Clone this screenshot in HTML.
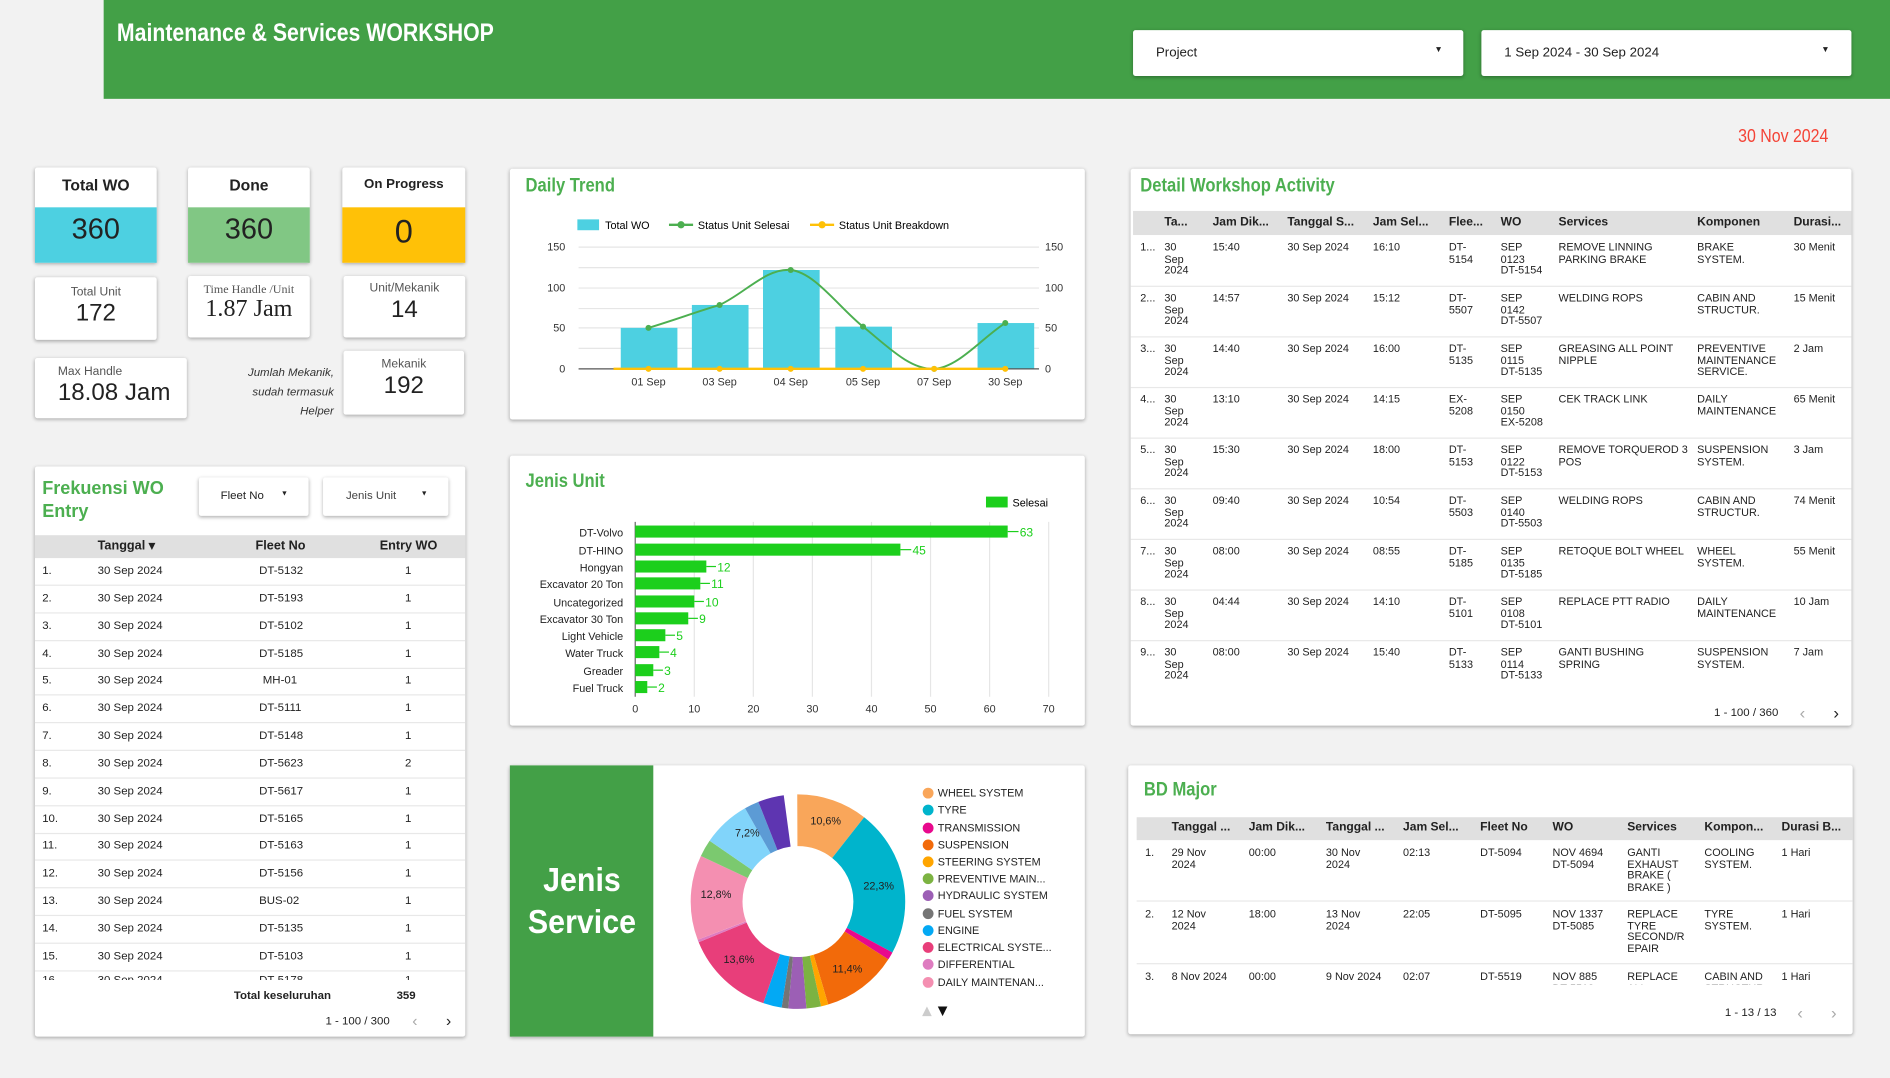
<!DOCTYPE html>
<html><head><meta charset="utf-8">
<style>
*{margin:0;padding:0;box-sizing:border-box}
html,body{width:1890px;height:1078px;overflow:hidden;background:#f2f2f2}
#w{position:absolute;left:0;top:0;width:1568px;height:894px;transform:scale(1.20536);transform-origin:0 0;font-family:"Liberation Sans Narrow","Liberation Sans",sans-serif;color:#222}
.a{position:absolute}
.card{position:absolute;background:#fff;box-shadow:0 1px 3px rgba(0,0,0,.3);border-radius:2px}
.ttl{position:absolute;color:#4caf50;font-weight:bold;font-size:16px;transform:scaleX(0.86);transform-origin:0 0;white-space:nowrap}
.c{position:absolute;white-space:nowrap}
.sm{font-size:9px;line-height:9.6px}
.hdr{position:absolute;background:#e0e0e0}
.hl{position:absolute;font-weight:bold;font-size:10px;white-space:nowrap}
.kt{position:absolute;left:0;right:0;text-align:center}
.row{position:absolute;left:0;right:0;border-bottom:1px solid #e8e8e8}
</style></head><body><div id="w">

<!-- header -->
<div class="a" style="left:86px;top:0;width:1482px;height:82px;background:#43a047"></div>
<div class="a" style="left:97px;top:16px;color:#fff;font-weight:bold;font-size:21px;transform:scaleX(0.84);transform-origin:0 0;white-space:nowrap">Maintenance &amp; Services WORKSHOP</div>
<div class="card" style="left:940px;top:25px;width:274px;height:38px"><span class="c" style="left:19px;top:13px;font-size:11px">Project</span><span class="c" style="left:250px;top:13px;font-size:7px">▼</span></div>
<div class="card" style="left:1229px;top:25px;width:307px;height:38px"><span class="c" style="left:19px;top:13px;font-size:11px">1 Sep 2024 - 30 Sep 2024</span><span class="c" style="left:282px;top:13px;font-size:7px">▼</span></div>
<div class="a" style="left:1442px;top:105px;color:#f44336;font-size:15px;transform:scaleX(0.88);transform-origin:0 0;white-space:nowrap">30 Nov 2024</div>

<!-- KPI cards -->
<div class="card" style="left:29px;top:139px;width:101px;height:79px"><div class="kt" style="top:7px;font-weight:bold;font-size:13px">Total WO</div><div class="a" style="left:0;right:0;top:33px;height:46px;background:#4dd0e1"></div><div class="kt" style="top:38px;font-size:24px">360</div></div>
<div class="card" style="left:156px;top:139px;width:101px;height:79px"><div class="kt" style="top:7px;font-weight:bold;font-size:13px">Done</div><div class="a" style="left:0;right:0;top:33px;height:46px;background:#81c784"></div><div class="kt" style="top:38px;font-size:24px">360</div></div>
<div class="card" style="left:284px;top:139px;width:102px;height:79px"><div class="kt" style="top:8px;font-weight:bold;font-size:11px">On Progress</div><div class="a" style="left:0;right:0;top:33px;height:46px;background:#ffc107"></div><div class="kt" style="top:38px;font-size:27px">0</div></div>

<div class="card" style="left:29px;top:230px;width:101px;height:52px"><div class="kt" style="top:7px;font-size:10px;color:#555">Total Unit</div><div class="kt" style="top:19px;font-size:20px">172</div></div>
<div class="card" style="left:156px;top:229px;width:101px;height:51px;font-family:'Liberation Serif',serif"><div class="kt" style="top:6px;font-size:10px;color:#555">Time Handle /Unit</div><div class="kt" style="top:16px;font-size:20px">1.87 Jam</div></div>
<div class="card" style="left:285px;top:229px;width:101px;height:51px"><div class="kt" style="top:5px;font-size:10px;color:#555">Unit/Mekanik</div><div class="kt" style="top:17px;font-size:20px">14</div></div>
<div class="card" style="left:29px;top:297px;width:126px;height:50px"><div class="a" style="left:19px;top:6px;font-size:10px;color:#555">Max Handle</div><div class="a" style="left:19px;top:18px;font-size:20px">18.08 Jam</div></div>
<div class="a" style="left:180px;top:302px;width:97px;text-align:right;font-style:italic;font-size:9.5px;line-height:16px;color:#333">Jumlah Mekanik,<br>sudah termasuk<br>Helper</div>
<div class="card" style="left:285px;top:291px;width:100px;height:53px"><div class="kt" style="top:6px;font-size:10px;color:#555">Mekanik</div><div class="kt" style="top:18px;font-size:20px">192</div></div>

<!-- Daily trend -->
<div class="card" style="left:423px;top:140px;width:477px;height:208px"></div>
<div class="ttl" style="left:436px;top:146px">Daily Trend</div>
<svg class="a" style="left:0;top:0" width="1568" height="894" font-family="Liberation Sans Narrow, Liberation Sans, sans-serif" font-size="9">
 <rect x="479" y="182" width="18" height="9" fill="#4dd0e1"/><text x="502" y="190">Total WO</text>
 <line x1="555" y1="186.5" x2="575" y2="186.5" stroke="#4caf50" stroke-width="2"/><circle cx="565" cy="186.5" r="3" fill="#4caf50"/><text x="579" y="190">Status Unit Selesai</text>
 <line x1="672" y1="186.5" x2="692" y2="186.5" stroke="#ffc107" stroke-width="2"/><circle cx="682" cy="186.5" r="3" fill="#ffc107"/><text x="696" y="190">Status Unit Breakdown</text>
 <g stroke="#e6e6e6"><line x1="480" y1="205" x2="862" y2="205"/><line x1="480" y1="222" x2="862" y2="222"/><line x1="480" y1="239" x2="862" y2="239"/><line x1="480" y1="256" x2="862" y2="256"/><line x1="480" y1="272" x2="862" y2="272"/><line x1="480" y1="289" x2="862" y2="289"/></g>
 <g fill="#333" text-anchor="end"><text x="469" y="208">150</text><text x="469" y="242">100</text><text x="469" y="275">50</text><text x="469" y="309">0</text></g>
 <g fill="#333"><text x="867" y="208">150</text><text x="867" y="242">100</text><text x="867" y="275">50</text><text x="867" y="309">0</text></g>
 <g fill="#4dd0e1"><rect x="515" y="272" width="47" height="34"/><rect x="574" y="253" width="47" height="53"/><rect x="633" y="224" width="47" height="82"/><rect x="693" y="271" width="47" height="35"/><rect x="811" y="268" width="47" height="38"/></g>
 <line x1="480" y1="306" x2="862" y2="306" stroke="#555"/>
 <path d="M538,272 C558,266 577,259 597,253 C617,244 636,222 656,224 C676,226 696,255 716,271 C736,287 755,307 775,306 C795,305 815,280 834,268" fill="none" stroke="#4caf50" stroke-width="1.6"/>
 <g fill="#4caf50"><circle cx="538" cy="272" r="2.5"/><circle cx="597" cy="253" r="2.5"/><circle cx="656" cy="224" r="2.5"/><circle cx="716" cy="271" r="2.5"/><circle cx="775" cy="306" r="2.5"/><circle cx="834" cy="268" r="2.5"/></g>
 <line x1="509" y1="306" x2="834" y2="306" stroke="#ffc107" stroke-width="2"/>
 <g fill="#ffc107"><circle cx="538" cy="306" r="2.5"/><circle cx="597" cy="306" r="2.5"/><circle cx="656" cy="306" r="2.5"/><circle cx="716" cy="306" r="2.5"/><circle cx="775" cy="306" r="2.5"/><circle cx="834" cy="306" r="2.5"/></g>
 <g fill="#333" text-anchor="middle"><text x="538" y="320">01 Sep</text><text x="597" y="320">03 Sep</text><text x="656" y="320">04 Sep</text><text x="716" y="320">05 Sep</text><text x="775" y="320">07 Sep</text><text x="834" y="320">30 Sep</text></g>
</svg>

<!-- Jenis Unit -->
<div class="card" style="left:423px;top:378px;width:477px;height:224px"></div>
<div class="ttl" style="left:436px;top:391px">Jenis Unit</div>
<svg class="a" style="left:0;top:0" width="1568" height="894" font-family="Liberation Sans Narrow, Liberation Sans, sans-serif" font-size="9">
 <rect x="818" y="412" width="18" height="9" fill="#1ccf1c"/><text x="840" y="420">Selesai</text>
 <g stroke="#e6e6e6"><line x1="576" y1="433" x2="576" y2="578"/><line x1="625" y1="433" x2="625" y2="578"/><line x1="674" y1="433" x2="674" y2="578"/><line x1="723" y1="433" x2="723" y2="578"/><line x1="772" y1="433" x2="772" y2="578"/><line x1="821" y1="433" x2="821" y2="578"/><line x1="870" y1="433" x2="870" y2="578"/></g>
 <line x1="527" y1="433" x2="527" y2="578" stroke="#666"/>
 <g fill="#1ccf1c">
  <rect x="527" y="436" width="309" height="10"/><rect x="527" y="451" width="220" height="10"/><rect x="527" y="465" width="59" height="10"/><rect x="527" y="479" width="54" height="10"/><rect x="527" y="494" width="49" height="10"/><rect x="527" y="508" width="44" height="10"/><rect x="527" y="522" width="25" height="10"/><rect x="527" y="536" width="20" height="10"/><rect x="527" y="551" width="15" height="10"/><rect x="527" y="565" width="10" height="10"/>
 </g>
 <g stroke="#1ccf1c"><line x1="836" y1="441" x2="845" y2="441"/><line x1="747" y1="456" x2="756" y2="456"/><line x1="586" y1="470" x2="594" y2="470"/><line x1="581" y1="484" x2="589" y2="484"/><line x1="576" y1="499" x2="584" y2="499"/><line x1="571" y1="513" x2="579" y2="513"/><line x1="552" y1="527" x2="560" y2="527"/><line x1="547" y1="541" x2="555" y2="541"/><line x1="542" y1="556" x2="550" y2="556"/><line x1="537" y1="570" x2="545" y2="570"/></g>
 <g fill="#1ccf1c" font-size="10"><text x="846" y="445">63</text><text x="757" y="460">45</text><text x="595" y="474">12</text><text x="590" y="488">11</text><text x="585" y="503">10</text><text x="580" y="517">9</text><text x="561" y="531">5</text><text x="556" y="545">4</text><text x="551" y="560">3</text><text x="546" y="574">2</text></g>
 <g fill="#222" text-anchor="end"><text x="517" y="445">DT-Volvo</text><text x="517" y="460">DT-HINO</text><text x="517" y="474">Hongyan</text><text x="517" y="488">Excavator 20 Ton</text><text x="517" y="503">Uncategorized</text><text x="517" y="517">Excavator 30 Ton</text><text x="517" y="531">Light Vehicle</text><text x="517" y="545">Water Truck</text><text x="517" y="560">Greader</text><text x="517" y="574">Fuel Truck</text></g>
 <g fill="#333" text-anchor="middle"><text x="527" y="591">0</text><text x="576" y="591">10</text><text x="625" y="591">20</text><text x="674" y="591">30</text><text x="723" y="591">40</text><text x="772" y="591">50</text><text x="821" y="591">60</text><text x="870" y="591">70</text></g>
</svg>

<!-- Jenis Service -->
<div class="card" style="left:423px;top:635px;width:477px;height:225px"></div>
<div class="a" style="left:423px;top:635px;width:119px;height:225px;background:#43a047"></div>
<div class="a" style="left:423px;top:712px;width:119px;text-align:center;color:#fff;font-weight:bold;font-size:28px;line-height:35px"><span style="display:inline-block;transform:scaleX(0.9)">Jenis<br>Service</span></div>
<svg class="a" style="left:0;top:0" width="1568" height="894" font-family="Liberation Sans Narrow, Liberation Sans, sans-serif">
 <g transform="rotate(-90 662 748)" fill="none" stroke-width="43">
  <circle cx="662" cy="748" r="67.5" pathLength="100" stroke="#f9a65a" stroke-dasharray="10.6 89.4" stroke-dashoffset="0"/>
  <circle cx="662" cy="748" r="67.5" pathLength="100" stroke="#00b4cc" stroke-dasharray="22.3 77.7" stroke-dashoffset="-10.6"/>
  <circle cx="662" cy="748" r="67.5" pathLength="100" stroke="#e8098d" stroke-dasharray="1.2 98.8" stroke-dashoffset="-32.9"/>
  <circle cx="662" cy="748" r="67.5" pathLength="100" stroke="#f26a0a" stroke-dasharray="11.4 88.6" stroke-dashoffset="-34.1"/>
  <circle cx="662" cy="748" r="67.5" pathLength="100" stroke="#ffa500" stroke-dasharray="1.1 98.9" stroke-dashoffset="-45.5"/>
  <circle cx="662" cy="748" r="67.5" pathLength="100" stroke="#7cb342" stroke-dasharray="2.2 97.8" stroke-dashoffset="-46.6"/>
  <circle cx="662" cy="748" r="67.5" pathLength="100" stroke="#9c5fb5" stroke-dasharray="2.7 97.3" stroke-dashoffset="-48.8"/>
  <circle cx="662" cy="748" r="67.5" pathLength="100" stroke="#757575" stroke-dasharray="1.0 99" stroke-dashoffset="-51.5"/>
  <circle cx="662" cy="748" r="67.5" pathLength="100" stroke="#03a9f4" stroke-dasharray="2.8 97.2" stroke-dashoffset="-52.5"/>
  <circle cx="662" cy="748" r="67.5" pathLength="100" stroke="#e83e7a" stroke-dasharray="13.6 86.4" stroke-dashoffset="-55.3"/>
  <circle cx="662" cy="748" r="67.5" pathLength="100" stroke="#de7cc0" stroke-dasharray="0.4 99.6" stroke-dashoffset="-68.9"/>
  <circle cx="662" cy="748" r="67.5" pathLength="100" stroke="#f48fb1" stroke-dasharray="12.8 87.2" stroke-dashoffset="-69.3"/>
  <circle cx="662" cy="748" r="67.5" pathLength="100" stroke="#7bc96f" stroke-dasharray="2.6 97.4" stroke-dashoffset="-82.1"/>
  <circle cx="662" cy="748" r="67.5" pathLength="100" stroke="#81d4fa" stroke-dasharray="7.2 92.8" stroke-dashoffset="-84.7"/>
  <circle cx="662" cy="748" r="67.5" pathLength="100" stroke="#5c9bd5" stroke-dasharray="2.2 97.8" stroke-dashoffset="-91.9"/>
  <circle cx="662" cy="748" r="67.5" pathLength="100" stroke="#5e35b1" stroke-dasharray="3.9 96.1" stroke-dashoffset="-94.1"/>
 </g>
 <g font-size="9" fill="#222" text-anchor="middle"><text x="685" y="684">10,6%</text><text x="729" y="738">22,3%</text><text x="703" y="807">11,4%</text><text x="613" y="799">13,6%</text><text x="594" y="745">12,8%</text><text x="620" y="694">7,2%</text></g>
 <g font-size="9" fill="#222">
  <circle cx="770" cy="658" r="4.5" fill="#f9a65a"/><text x="778" y="661">WHEEL SYSTEM</text>
  <circle cx="770" cy="672" r="4.5" fill="#00b4cc"/><text x="778" y="675">TYRE</text>
  <circle cx="770" cy="687" r="4.5" fill="#e8098d"/><text x="778" y="690">TRANSMISSION</text>
  <circle cx="770" cy="701" r="4.5" fill="#f26a0a"/><text x="778" y="704">SUSPENSION</text>
  <circle cx="770" cy="715" r="4.5" fill="#ffa500"/><text x="778" y="718">STEERING SYSTEM</text>
  <circle cx="770" cy="729" r="4.5" fill="#7cb342"/><text x="778" y="732">PREVENTIVE MAIN...</text>
  <circle cx="770" cy="743" r="4.5" fill="#9c5fb5"/><text x="778" y="746">HYDRAULIC SYSTEM</text>
  <circle cx="770" cy="758" r="4.5" fill="#757575"/><text x="778" y="761">FUEL SYSTEM</text>
  <circle cx="770" cy="772" r="4.5" fill="#03a9f4"/><text x="778" y="775">ENGINE</text>
  <circle cx="770" cy="786" r="4.5" fill="#e83e7a"/><text x="778" y="789">ELECTRICAL SYSTE...</text>
  <circle cx="770" cy="800" r="4.5" fill="#de7cc0"/><text x="778" y="803">DIFFERENTIAL</text>
  <circle cx="770" cy="815" r="4.5" fill="#f48fb1"/><text x="778" y="818">DAILY MAINTENAN...</text>
 </g>
 <polygon points="765,843 773,843 769,835" fill="#ccc"/><polygon points="778,835 786,835 782,843" fill="#111"/>
</svg>

<!-- Frekuensi WO Entry -->
<div class="card" style="left:29px;top:387px;width:357px;height:473px">
 <div class="a" style="left:6px;top:9px;color:#4caf50;font-weight:bold;font-size:15px;line-height:19px">Frekuensi WO<br>Entry</div>
 <div class="card" style="left:136px;top:9px;width:91px;height:32px"><span class="c" style="left:18px;top:10px;font-size:9.5px">Fleet No</span><span class="c" style="left:68px;top:11px;font-size:6px">▼</span></div>
 <div class="card" style="left:239px;top:9px;width:104px;height:32px"><span class="c" style="left:19px;top:10px;font-size:9.5px;color:#444">Jenis Unit</span><span class="c" style="left:81px;top:11px;font-size:6px">▼</span></div>
 <div class="hdr" style="left:0;right:0;top:57px;height:19px"></div>
 <span class="hl" style="left:52px;top:60px;font-size:10.5px">Tanggal ▾</span><span class="hl" style="left:183px;top:60px;font-size:10.5px">Fleet No</span><span class="hl" style="left:286px;top:60px;font-size:10.5px">Entry WO</span>
 <div class="a" style="left:0;right:0;top:76px;font-size:9.5px">
  <div class="row" style="top:0;height:23px"><span class="c" style="left:6px;top:5px">1.</span><span class="c" style="left:52px;top:5px">30 Sep 2024</span><span class="c" style="left:186px;top:5px">DT-5132</span><span class="c" style="left:307px;top:5px">1</span></div>
  <div class="row" style="top:23px;height:23px"><span class="c" style="left:6px;top:5px">2.</span><span class="c" style="left:52px;top:5px">30 Sep 2024</span><span class="c" style="left:186px;top:5px">DT-5193</span><span class="c" style="left:307px;top:5px">1</span></div>
  <div class="row" style="top:46px;height:23px"><span class="c" style="left:6px;top:5px">3.</span><span class="c" style="left:52px;top:5px">30 Sep 2024</span><span class="c" style="left:186px;top:5px">DT-5102</span><span class="c" style="left:307px;top:5px">1</span></div>
  <div class="row" style="top:69px;height:23px"><span class="c" style="left:6px;top:5px">4.</span><span class="c" style="left:52px;top:5px">30 Sep 2024</span><span class="c" style="left:186px;top:5px">DT-5185</span><span class="c" style="left:307px;top:5px">1</span></div>
  <div class="row" style="top:91px;height:23px"><span class="c" style="left:6px;top:5px">5.</span><span class="c" style="left:52px;top:5px">30 Sep 2024</span><span class="c" style="left:189px;top:5px">MH-01</span><span class="c" style="left:307px;top:5px">1</span></div>
  <div class="row" style="top:114px;height:23px"><span class="c" style="left:6px;top:5px">6.</span><span class="c" style="left:52px;top:5px">30 Sep 2024</span><span class="c" style="left:186px;top:5px">DT-5111</span><span class="c" style="left:307px;top:5px">1</span></div>
  <div class="row" style="top:137px;height:23px"><span class="c" style="left:6px;top:5px">7.</span><span class="c" style="left:52px;top:5px">30 Sep 2024</span><span class="c" style="left:186px;top:5px">DT-5148</span><span class="c" style="left:307px;top:5px">1</span></div>
  <div class="row" style="top:160px;height:23px"><span class="c" style="left:6px;top:5px">8.</span><span class="c" style="left:52px;top:5px">30 Sep 2024</span><span class="c" style="left:186px;top:5px">DT-5623</span><span class="c" style="left:307px;top:5px">2</span></div>
  <div class="row" style="top:183px;height:23px"><span class="c" style="left:6px;top:5px">9.</span><span class="c" style="left:52px;top:5px">30 Sep 2024</span><span class="c" style="left:186px;top:5px">DT-5617</span><span class="c" style="left:307px;top:5px">1</span></div>
  <div class="row" style="top:206px;height:23px"><span class="c" style="left:6px;top:5px">10.</span><span class="c" style="left:52px;top:5px">30 Sep 2024</span><span class="c" style="left:186px;top:5px">DT-5165</span><span class="c" style="left:307px;top:5px">1</span></div>
  <div class="row" style="top:228px;height:23px"><span class="c" style="left:6px;top:5px">11.</span><span class="c" style="left:52px;top:5px">30 Sep 2024</span><span class="c" style="left:186px;top:5px">DT-5163</span><span class="c" style="left:307px;top:5px">1</span></div>
  <div class="row" style="top:251px;height:23px"><span class="c" style="left:6px;top:5px">12.</span><span class="c" style="left:52px;top:5px">30 Sep 2024</span><span class="c" style="left:186px;top:5px">DT-5156</span><span class="c" style="left:307px;top:5px">1</span></div>
  <div class="row" style="top:274px;height:23px"><span class="c" style="left:6px;top:5px">13.</span><span class="c" style="left:52px;top:5px">30 Sep 2024</span><span class="c" style="left:186px;top:5px">BUS-02</span><span class="c" style="left:307px;top:5px">1</span></div>
  <div class="row" style="top:297px;height:23px"><span class="c" style="left:6px;top:5px">14.</span><span class="c" style="left:52px;top:5px">30 Sep 2024</span><span class="c" style="left:186px;top:5px">DT-5135</span><span class="c" style="left:307px;top:5px">1</span></div>
  <div class="row" style="top:320px;height:23px"><span class="c" style="left:6px;top:5px">15.</span><span class="c" style="left:52px;top:5px">30 Sep 2024</span><span class="c" style="left:186px;top:5px">DT-5103</span><span class="c" style="left:307px;top:5px">1</span></div>
  <div class="a" style="left:0;right:0;top:343px;height:7px;overflow:hidden"><span class="c" style="left:6px;top:2px">16.</span><span class="c" style="left:52px;top:2px">30 Sep 2024</span><span class="c" style="left:186px;top:2px">DT-5178</span><span class="c" style="left:307px;top:2px">1</span></div>
 </div>
 <span class="c" style="left:165px;top:434px;font-size:9.5px;font-weight:bold">Total keseluruhan</span><span class="c" style="left:300px;top:434px;font-size:9.5px;font-weight:bold">359</span>
 <span class="c" style="left:241px;top:455px;font-size:9.5px">1 - 100 / 300</span>
 <span class="c" style="left:313px;top:452px;font-size:13px;color:#aaa">‹</span><span class="c" style="left:341px;top:452px;font-size:13px">›</span>
</div>

<!-- Detail Workshop Activity -->
<div class="card" style="left:938px;top:140px;width:598px;height:462px">
 <div class="ttl" style="left:8px;top:6px">Detail Workshop Activity</div>
 <div class="hdr" style="left:2px;right:0;top:35px;height:20px"></div>
 <span class="hl" style="left:28px;top:39px">Ta...</span><span class="hl" style="left:68px;top:39px">Jam Dik...</span><span class="hl" style="left:130px;top:39px">Tanggal S...</span><span class="hl" style="left:201px;top:39px">Jam Sel...</span><span class="hl" style="left:264px;top:39px">Flee...</span><span class="hl" style="left:307px;top:39px">WO</span><span class="hl" style="left:355px;top:39px">Services</span><span class="hl" style="left:470px;top:39px">Komponen</span><span class="hl" style="left:550px;top:39px">Durasi...</span>
 <div class="a sm" style="left:0;right:0;top:56px">
  <div class="row" style="top:0;height:42px"><span class="c" style="left:8px;top:5px">1...</span><span class="c" style="left:28px;top:5px">30<br>Sep<br>2024</span><span class="c" style="left:68px;top:5px">15:40</span><span class="c" style="left:130px;top:5px">30 Sep 2024</span><span class="c" style="left:201px;top:5px">16:10</span><span class="c" style="left:264px;top:5px">DT-<br>5154</span><span class="c" style="left:307px;top:5px">SEP<br>0123<br>DT-5154</span><span class="c" style="left:355px;top:5px">REMOVE LINNING<br>PARKING BRAKE</span><span class="c" style="left:470px;top:5px">BRAKE<br>SYSTEM.</span><span class="c" style="left:550px;top:5px">30 Menit</span></div>
  <div class="row" style="top:42px;height:42px"><span class="c" style="left:8px;top:5px">2...</span><span class="c" style="left:28px;top:5px">30<br>Sep<br>2024</span><span class="c" style="left:68px;top:5px">14:57</span><span class="c" style="left:130px;top:5px">30 Sep 2024</span><span class="c" style="left:201px;top:5px">15:12</span><span class="c" style="left:264px;top:5px">DT-<br>5507</span><span class="c" style="left:307px;top:5px">SEP<br>0142<br>DT-5507</span><span class="c" style="left:355px;top:5px">WELDING ROPS</span><span class="c" style="left:470px;top:5px">CABIN AND<br>STRUCTUR.</span><span class="c" style="left:550px;top:5px">15 Menit</span></div>
  <div class="row" style="top:84px;height:42px"><span class="c" style="left:8px;top:5px">3...</span><span class="c" style="left:28px;top:5px">30<br>Sep<br>2024</span><span class="c" style="left:68px;top:5px">14:40</span><span class="c" style="left:130px;top:5px">30 Sep 2024</span><span class="c" style="left:201px;top:5px">16:00</span><span class="c" style="left:264px;top:5px">DT-<br>5135</span><span class="c" style="left:307px;top:5px">SEP<br>0115<br>DT-5135</span><span class="c" style="left:355px;top:5px">GREASING ALL POINT<br>NIPPLE</span><span class="c" style="left:470px;top:5px">PREVENTIVE<br>MAINTENANCE<br>SERVICE.</span><span class="c" style="left:550px;top:5px">2 Jam</span></div>
  <div class="row" style="top:126px;height:42px"><span class="c" style="left:8px;top:5px">4...</span><span class="c" style="left:28px;top:5px">30<br>Sep<br>2024</span><span class="c" style="left:68px;top:5px">13:10</span><span class="c" style="left:130px;top:5px">30 Sep 2024</span><span class="c" style="left:201px;top:5px">14:15</span><span class="c" style="left:264px;top:5px">EX-<br>5208</span><span class="c" style="left:307px;top:5px">SEP<br>0150<br>EX-5208</span><span class="c" style="left:355px;top:5px">CEK TRACK LINK</span><span class="c" style="left:470px;top:5px">DAILY<br>MAINTENANCE</span><span class="c" style="left:550px;top:5px">65 Menit</span></div>
  <div class="row" style="top:168px;height:42px"><span class="c" style="left:8px;top:5px">5...</span><span class="c" style="left:28px;top:5px">30<br>Sep<br>2024</span><span class="c" style="left:68px;top:5px">15:30</span><span class="c" style="left:130px;top:5px">30 Sep 2024</span><span class="c" style="left:201px;top:5px">18:00</span><span class="c" style="left:264px;top:5px">DT-<br>5153</span><span class="c" style="left:307px;top:5px">SEP<br>0122<br>DT-5153</span><span class="c" style="left:355px;top:5px">REMOVE TORQUEROD 3<br>POS</span><span class="c" style="left:470px;top:5px">SUSPENSION<br>SYSTEM.</span><span class="c" style="left:550px;top:5px">3 Jam</span></div>
  <div class="row" style="top:210px;height:42px"><span class="c" style="left:8px;top:5px">6...</span><span class="c" style="left:28px;top:5px">30<br>Sep<br>2024</span><span class="c" style="left:68px;top:5px">09:40</span><span class="c" style="left:130px;top:5px">30 Sep 2024</span><span class="c" style="left:201px;top:5px">10:54</span><span class="c" style="left:264px;top:5px">DT-<br>5503</span><span class="c" style="left:307px;top:5px">SEP<br>0140<br>DT-5503</span><span class="c" style="left:355px;top:5px">WELDING ROPS</span><span class="c" style="left:470px;top:5px">CABIN AND<br>STRUCTUR.</span><span class="c" style="left:550px;top:5px">74 Menit</span></div>
  <div class="row" style="top:252px;height:42px"><span class="c" style="left:8px;top:5px">7...</span><span class="c" style="left:28px;top:5px">30<br>Sep<br>2024</span><span class="c" style="left:68px;top:5px">08:00</span><span class="c" style="left:130px;top:5px">30 Sep 2024</span><span class="c" style="left:201px;top:5px">08:55</span><span class="c" style="left:264px;top:5px">DT-<br>5185</span><span class="c" style="left:307px;top:5px">SEP<br>0135<br>DT-5185</span><span class="c" style="left:355px;top:5px">RETOQUE BOLT WHEEL</span><span class="c" style="left:470px;top:5px">WHEEL<br>SYSTEM.</span><span class="c" style="left:550px;top:5px">55 Menit</span></div>
  <div class="row" style="top:294px;height:42px"><span class="c" style="left:8px;top:5px">8...</span><span class="c" style="left:28px;top:5px">30<br>Sep<br>2024</span><span class="c" style="left:68px;top:5px">04:44</span><span class="c" style="left:130px;top:5px">30 Sep 2024</span><span class="c" style="left:201px;top:5px">14:10</span><span class="c" style="left:264px;top:5px">DT-<br>5101</span><span class="c" style="left:307px;top:5px">SEP<br>0108<br>DT-5101</span><span class="c" style="left:355px;top:5px">REPLACE PTT RADIO</span><span class="c" style="left:470px;top:5px">DAILY<br>MAINTENANCE</span><span class="c" style="left:550px;top:5px">10 Jam</span></div>
  <div class="a" style="left:0;right:0;top:336px;height:42px"><span class="c" style="left:8px;top:5px">9...</span><span class="c" style="left:28px;top:5px">30<br>Sep<br>2024</span><span class="c" style="left:68px;top:5px">08:00</span><span class="c" style="left:130px;top:5px">30 Sep 2024</span><span class="c" style="left:201px;top:5px">15:40</span><span class="c" style="left:264px;top:5px">DT-<br>5133</span><span class="c" style="left:307px;top:5px">SEP<br>0114<br>DT-5133</span><span class="c" style="left:355px;top:5px">GANTI BUSHING<br>SPRING</span><span class="c" style="left:470px;top:5px">SUSPENSION<br>SYSTEM.</span><span class="c" style="left:550px;top:5px">7 Jam</span></div>
 </div>
 <span class="c" style="left:484px;top:446px;font-size:9.5px">1 - 100 / 360</span>
 <span class="c" style="left:555px;top:443px;font-size:14px;color:#aaa">‹</span><span class="c" style="left:583px;top:443px;font-size:14px">›</span>
</div>

<!-- BD Major -->
<div class="card" style="left:936px;top:635px;width:601px;height:223px">
 <div class="ttl" style="left:13px;top:12px">BD Major</div>
 <div class="hdr" style="left:7px;right:0;top:43px;height:19px"></div>
 <span class="hl" style="left:36px;top:46px">Tanggal ...</span><span class="hl" style="left:100px;top:46px">Jam Dik...</span><span class="hl" style="left:164px;top:46px">Tanggal ...</span><span class="hl" style="left:228px;top:46px">Jam Sel...</span><span class="hl" style="left:292px;top:46px">Fleet No</span><span class="hl" style="left:352px;top:46px">WO</span><span class="hl" style="left:414px;top:46px">Services</span><span class="hl" style="left:478px;top:46px">Kompon...</span><span class="hl" style="left:542px;top:46px">Durasi B...</span>
 <div class="a sm" style="left:7px;right:0;top:62px">
  <div class="row" style="top:0;height:51px"><span class="c" style="left:7px;top:6px">1.</span><span class="c" style="left:29px;top:6px">29 Nov<br>2024</span><span class="c" style="left:93px;top:6px">00:00</span><span class="c" style="left:157px;top:6px">30 Nov<br>2024</span><span class="c" style="left:221px;top:6px">02:13</span><span class="c" style="left:285px;top:6px">DT-5094</span><span class="c" style="left:345px;top:6px">NOV 4694<br>DT-5094</span><span class="c" style="left:407px;top:6px">GANTI<br>EXHAUST<br>BRAKE (<br>BRAKE )</span><span class="c" style="left:471px;top:6px">COOLING<br>SYSTEM.</span><span class="c" style="left:535px;top:6px">1 Hari</span></div>
  <div class="row" style="top:51px;height:52px"><span class="c" style="left:7px;top:6px">2.</span><span class="c" style="left:29px;top:6px">12 Nov<br>2024</span><span class="c" style="left:93px;top:6px">18:00</span><span class="c" style="left:157px;top:6px">13 Nov<br>2024</span><span class="c" style="left:221px;top:6px">22:05</span><span class="c" style="left:285px;top:6px">DT-5095</span><span class="c" style="left:345px;top:6px">NOV 1337<br>DT-5085</span><span class="c" style="left:407px;top:6px">REPLACE<br>TYRE<br>SECOND/R<br>EPAIR</span><span class="c" style="left:471px;top:6px">TYRE<br>SYSTEM.</span><span class="c" style="left:535px;top:6px">1 Hari</span></div>
  <div class="a" style="left:0;right:0;top:103px;height:17px;overflow:hidden"><span class="c" style="left:7px;top:6px">3.</span><span class="c" style="left:29px;top:6px">8 Nov 2024</span><span class="c" style="left:93px;top:6px">00:00</span><span class="c" style="left:157px;top:6px">9 Nov 2024</span><span class="c" style="left:221px;top:6px">02:07</span><span class="c" style="left:285px;top:6px">DT-5519</span><span class="c" style="left:345px;top:6px">NOV 885<br>DT-5519</span><span class="c" style="left:407px;top:6px">REPLACE<br>ALL</span><span class="c" style="left:471px;top:6px">CABIN AND<br>STRUCTUR.</span><span class="c" style="left:535px;top:6px">1 Hari</span></div>
 </div>
 <span class="c" style="left:495px;top:200px;font-size:9.5px">1 - 13 / 13</span>
 <span class="c" style="left:555px;top:197px;font-size:14px;color:#aaa">‹</span><span class="c" style="left:583px;top:197px;font-size:14px;color:#aaa">›</span>
</div>

</div></body></html>
